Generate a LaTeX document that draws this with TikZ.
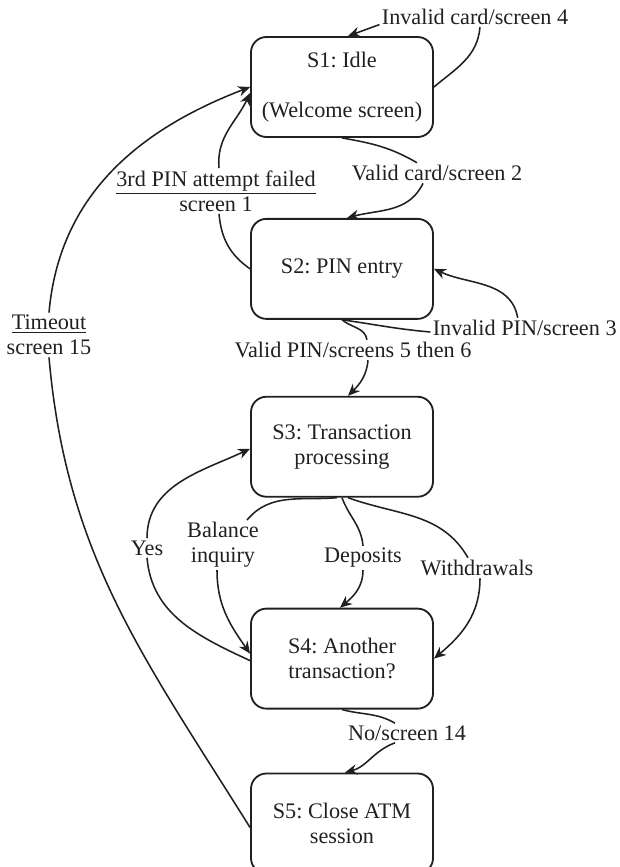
\documentclass[tikz,border=0pt]{standalone}
\usepackage{fontspec}
\setmainfont{Liberation Serif}
\usetikzlibrary{positioning,arrows.meta,calc}
\definecolor{ink}{HTML}{231F20}
\newcommand{\statefont}{\fontsize{15.8}{17.8}\selectfont\frenchspacing}
\tikzset{
  state/.style={draw=ink, line width=1.3pt, rounded corners=11pt, align=center,
                minimum width=4.55cm, minimum height=2.5cm, inner sep=3pt,
                text=ink, font=\statefont},
  lbl/.style={text=ink, align=center, inner sep=1.5pt, font=\statefont},
  flow/.style={-{Stealth[length=3mm, width=2.6mm]}, line width=1.1pt, draw=ink},
  link/.style={line width=1.1pt, draw=ink},
}

\begin{document}
\begin{tikzpicture}[x=0.025cm, y=-0.025cm]
  \useasboundingbox (0,0) rectangle (619,867);

  % ---------------------------------------------------------- the states
  \node[state] (s1) at (342,87) {S1: Idle\\[0.625cm](Welcome screen)};
  \node[state, below=2cm of s1] (s2) {S2: PIN entry};
  \node[state, below=1.9cm of s2] (s3) {S3: Transaction\\processing};
  \node[state, below=2.75cm of s3] (s4) {S4: Another\\transaction?};
  \node[state, below=1.575cm of s4] (s5) {S5: Close ATM\\session};

  % ---------------------------------------------------------- the labels
  \node[lbl] (invcard) at (475,17) {Invalid card/screen 4};
  \node[lbl] (validcard) at (437,173) {Valid card/screen 2};
  \node[lbl] (pin3) at (216,191) {\underline{3rd PIN attempt failed}\\screen 1};
  \node[lbl] (timeout) at (49,335) {\underline{Timeout}\\screen 15};
  \node[lbl, anchor=east] (invpin) at (619,328) {Invalid PIN/screen 3};
  \node[lbl] (validpin) at (353,350) {Valid PIN/screens 5 then 6};
  \node[lbl] (yes) at (147,548) {Yes};
  \node[lbl] (balance) at (223,545) {Balance\\inquiry};
  \node[lbl] (dep) at (363,558) {Deposits};
  \node[lbl] (wd) at (477,568) {Withdrawals};
  \node[lbl] (no) at (407,733) {No/screen 14};

  % ---------------------------------------------------------- the transitions
  % S1 back to itself
  \draw[link] (s1.east) to[out=40, in=-95] ($(invcard.south)+(5,0)$);
  \draw[flow] (invcard.base west) -- ($(s1.north)+(6,0)$);

  % S1 to S2, and back after three PINs
  \draw[link] (s1.south) to[out=-10, in=150] ($(validcard.north)+(-20,0)$);
  \draw[flow] ($(validcard.south)+(-14,0)$) to[out=-115, in=15] ($(s2.north)+(5,0)$);
  \draw[link] (s2.west) to[out=145, in=-85] ($(pin3.south)+(3,0)$);
  \draw[flow] ($(pin3.north)+(3,0)$) to[out=95, in=-115] ($(s1.west)+(0,6)$);

  % timeout from S5
  \draw[link] ($(s5.west)+(0,4)$) to[out=122, in=-85] (timeout.south);
  \draw[flow] (timeout.north) to[out=85, in=-159] (s1.west);

  % S2 back to itself, and on to S3
  \draw[link] (s2.south) to[out=-8, in=175] ($(invpin.west)+(0,4)$);
  \draw[flow] ($(invpin.north)+(-7,0)$) to[out=100, in=-25] (s2.east);
  \draw[link] (s2.south) to[out=-40, in=100] ($(validpin.north)+(14,0)$);
  \draw[flow] ($(validpin.south)+(15,0)$) to[out=-95, in=45] ($(s3.north)+(6,0)$);

  % S3 to S4, three ways
  \draw[link] ($(s3.south)+(-5,0)$) to[out=185, in=50] ($(balance.north)+(24,0)$);
  \draw[flow] ($(balance.south)+(-6,0)$) to[out=-90, in=125] ($(s4.west)+(0,-5)$);
  \draw[link] (s3.south) to[out=-70, in=95] (dep.north);
  \draw[flow] (dep.south) to[out=-90, in=40] ($(s4.north)+(-2,0)$);
  \draw[link] ($(s3.south)+(6,0)$) to[out=-20, in=120] ($(wd.north)+(-9,0)$);
  \draw[flow] ($(wd.south)+(3,0)$) to[out=-90, in=40] (s4.east);

  % S4 back to S3, or on to S5
  \draw[link] ($(s4.west)+(0,2)$) to[out=155, in=-85] (yes.south);
  \draw[flow] (yes.north) to[out=90, in=-155] ($(s3.west)+(0,2)$);
  \draw[link] (s4.south) to[out=-15, in=150] ($(no.north)+(-12,0)$);
  \draw[flow] ($(no.south)+(-12,0)$) to[out=-160, in=15] ($(s5.north)+(3,0)$);
\end{tikzpicture}
\end{document}
